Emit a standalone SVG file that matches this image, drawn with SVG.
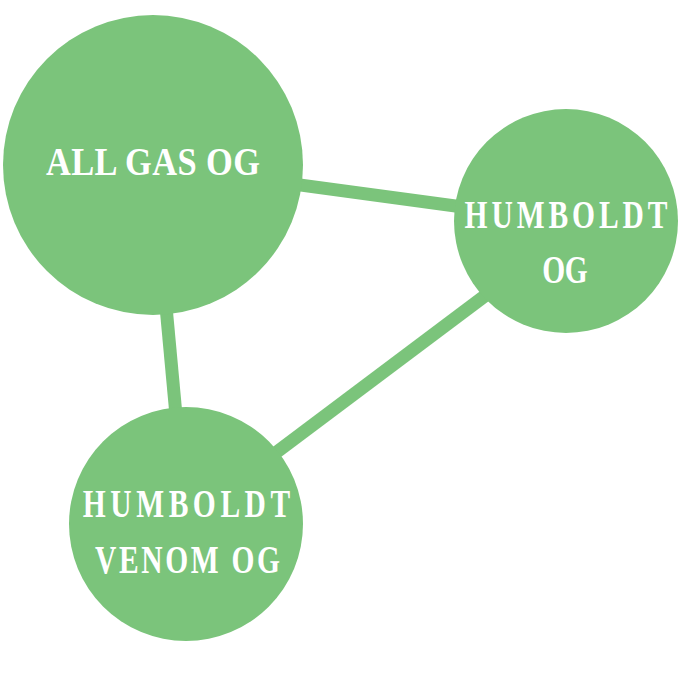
<svg xmlns="http://www.w3.org/2000/svg" width="700" height="684" viewBox="0 0 700 684">
<style>
.node{fill:#7bc47b}
.edge{stroke:#7bc47b;stroke-width:13;fill:none}
.lbl{fill:#ffffff;font-family:"Liberation Serif",serif;font-weight:bold;font-size:41px;text-anchor:middle}
</style>
<rect width="700" height="684" fill="#ffffff"/>
<g id="connectors">
<line class="edge" x1="153" y1="165" x2="566" y2="221"/>
<line class="edge" x1="153" y1="165" x2="186" y2="524"/>
<line class="edge" x1="566" y1="235" x2="186" y2="520"/>
</g>
<g id="node-allgas">
<circle class="node" cx="153" cy="165" r="150"/>
<text class="lbl" transform="translate(153,175) scale(0.84,1)" textLength="255" lengthAdjust="spacing">ALL GAS OG</text>
</g>
<g id="node-humboldt">
<circle class="node" cx="566" cy="221" r="112"/>
<text class="lbl" transform="translate(566,228) scale(0.72,1)" textLength="282" lengthAdjust="spacing">HUMBOLDT</text>
<text class="lbl" transform="translate(565,283) scale(0.72,1)" textLength="63" lengthAdjust="spacing">OG</text>
</g>
<g id="node-venom">
<circle class="node" cx="186" cy="524" r="117"/>
<text class="lbl" transform="translate(186.5,517) scale(0.72,1)" textLength="288" lengthAdjust="spacing">HUMBOLDT</text>
<text class="lbl" transform="translate(187.5,573) scale(0.72,1)" textLength="257" lengthAdjust="spacing">VENOM OG</text>
</g>
</svg>
